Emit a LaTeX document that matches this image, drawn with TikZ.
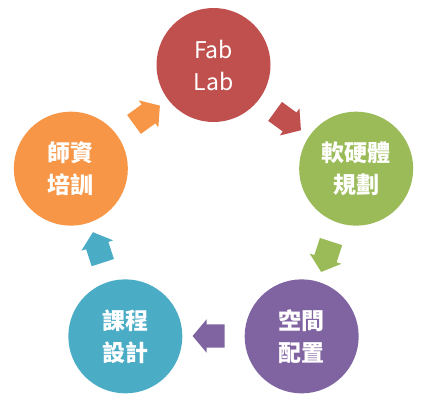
\documentclass[tikz,border=0pt]{standalone}
\usepackage{fontspec}
\newfontfamily\cjk{Noto Sans CJK TC}
\usetikzlibrary{shapes.arrows}
\definecolor{labred}{HTML}{C0504D}
\definecolor{labgreen}{HTML}{9BBB59}
\definecolor{labpurple}{HTML}{8064A2}
\definecolor{labblue}{HTML}{4BACC6}
\definecolor{laborange}{HTML}{F79646}
\tikzset{
  stage/.style={circle, minimum size=114pt, inner sep=0pt, text=white,
    align=center, font=\cjk\fontsize{23}{32}\selectfont},
  turn/.style={single arrow, draw=none, inner xsep=0pt, inner ysep=11.5pt,
    minimum height=32pt, minimum width=33pt, single arrow head extend=5pt,
    single arrow tip angle=100}
}
\begin{document}
\begin{tikzpicture}[x=1pt,y=1pt]
      \useasboundingbox (-213.5,-190) rectangle (213.5,215);
      \path
        (90:150) node[stage, fill=labred] (0){Fab\\Lab}
        (18:150) node[stage, fill=labgreen] (1){\bfseries 軟硬體\\\bfseries 規劃}
        (-54:150) node[stage, fill=labpurple] (2){\bfseries 空間\\\bfseries 配置}
        (-126:150) node[stage, fill=labblue] (3){\bfseries 課程\\\bfseries 設計}
        (162:150) node[stage, fill=laborange] (4){\bfseries 師資\\\bfseries 培訓};
      \begin{scope}[turn]
        \node[fill=labred, rotate=-36] (a0) at (54:120) {};
        \node[fill=labgreen, rotate=-108] (a1) at (-18:120) {};
        \node[fill=labpurple, rotate=180] (a2) at (-90:121) {};
        \node[fill=labblue, rotate=108] (a3) at (198:120) {};
        \node[fill=laborange, rotate=36] (a4) at (126:120) {};
      \end{scope}
    \end{tikzpicture}
\end{document}
